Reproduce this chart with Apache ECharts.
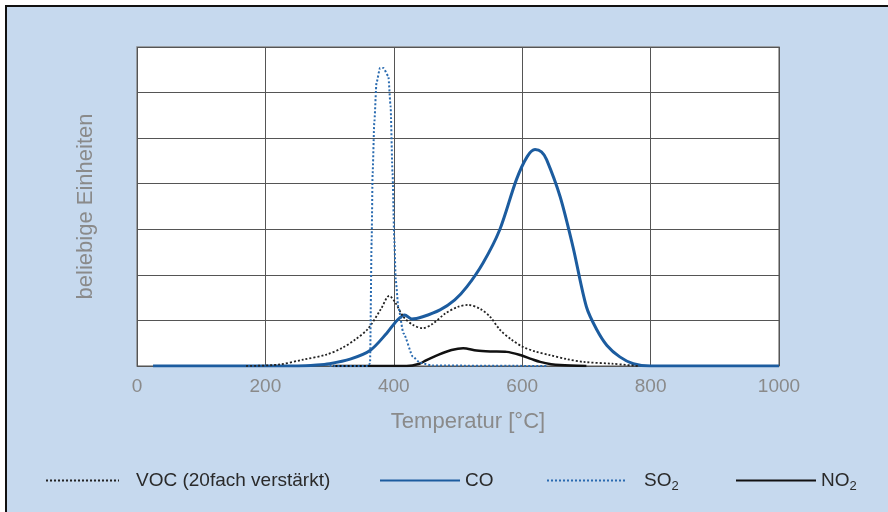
<!DOCTYPE html>
<html>
<head>
<meta charset="utf-8">
<script src="https://cdn.jsdelivr.net/npm/echarts@6/dist/echarts.min.js"></script>
<style>
  html, body { margin: 0; padding: 0; background: #fff; }
  #frame {
    position: absolute; left: 5px; top: 5px; width: 881px; height: 505px;
    background: #c6d9ee; border-top: 2px solid #111; border-left: 2px solid #111;
  }
  #chart { position: absolute; left: 0; top: 0; width: 888px; height: 512px; }
</style>
</head>
<body>
<div id="frame"></div>
<div id="chart"></div>
<script>
// Temperatur [°C] und Werte (beliebige Einheiten) je Kurve
const xTicks = [0, 200, 400, 600, 800, 1000]

const vocT = [170, 220, 259, 295, 320, 340, 360, 380, 393, 402, 415, 430, 445, 460, 480, 500, 516, 535, 550, 565, 583, 601, 620, 643, 670, 695, 740, 780]
const vocY = [0, 0.03, 0.14, 0.25, 0.4, 0.58, 0.82, 1.25, 1.54, 1.4, 1.08, 0.9, 0.83, 0.92, 1.15, 1.3, 1.34, 1.25, 1.08, 0.8, 0.58, 0.42, 0.32, 0.24, 0.15, 0.09, 0.05, 0]

const coT = [25, 250, 280, 300, 332, 363, 389, 405, 417, 428, 445, 472, 495, 514, 539, 565, 591, 608, 620, 630, 638, 659, 679, 700, 716, 732, 752, 773, 800, 1000]
const coY = [0, 0, 0.02, 0.05, 0.15, 0.34, 0.72, 1.0, 1.12, 1.03, 1.08, 1.23, 1.45, 1.74, 2.26, 2.99, 4.09, 4.6, 4.75, 4.7, 4.53, 3.72, 2.62, 1.3, 0.8, 0.45, 0.2, 0.05, 0, 0]

const so2T = [300, 360, 363, 365.5, 367, 369.6, 373, 378.5, 383.7, 391.5, 395, 398, 400.8, 403, 407, 415, 430, 441, 460, 640]
const so2Y = [0, 0, 0.06, 2.77, 4.23, 5.33, 6.21, 6.54, 6.54, 6.36, 5.7, 4.23, 2.77, 1.89, 1.3, 0.72, 0.2, 0.07, 0.01, 0]

const no2T = [305, 420, 440, 451, 470, 490, 508, 529, 550, 576, 597, 615, 628, 645, 659, 700]
const no2Y = [0, 0, 0.05, 0.13, 0.25, 0.35, 0.39, 0.34, 0.32, 0.31, 0.24, 0.15, 0.09, 0.04, 0.02, 0]

const pairs = (xs, ys) => xs.map((x, i) => [x, ys[i]])

const font = '"Liberation Sans", Arial, sans-serif'
const chart = echarts.init(document.getElementById('chart'))

const legendText = (pad) => ({
  fontFamily: font, fontSize: 19, color: '#2a2a2a', padding: [0, 0, 0, pad],
  rich: { sub: { fontFamily: font, fontSize: 13, color: '#2a2a2a', padding: [11, 0, 0, 0] } }
})
const legendBase = {
  orient: 'horizontal',
  top: 471,
  padding: 0,
  itemHeight: 16,
  selectedMode: false,
  itemStyle: { opacity: 0 }
}

chart.setOption({
  animation: false,
  grid: {
    left: 137, right: 109, top: 47, bottom: 146,
    show: true, backgroundColor: '#fff', borderColor: '#8a8a8a', borderWidth: 1.5
  },
  xAxis: {
    type: 'value', min: 0, max: 1000, interval: 200,
    name: 'Temperatur [°C]', nameLocation: 'middle', nameGap: 45,
    nameTextStyle: { fontFamily: font, fontSize: 22, color: '#8a8a8a', padding: [0, 0, 0, 20] },
    axisLine: { show: false }, axisTick: { show: false },
    axisLabel: {
      margin: 11, fontFamily: font, fontSize: 19, color: '#8a8a8a',
      formatter: v => xTicks.includes(v) ? String(v) : ''
    },
    splitLine: { lineStyle: { color: '#555', width: 1 } }
  },
  yAxis: {
    type: 'value', min: 0, max: 7, interval: 1,
    name: 'beliebige Einheiten', nameLocation: 'middle', nameGap: 40, nameRotate: 90,
    nameTextStyle: { fontFamily: font, fontSize: 22, color: '#8a8a8a' },
    axisLine: { show: false }, axisTick: { show: false }, axisLabel: { show: false },
    splitLine: { lineStyle: { color: '#555', width: 1 } }
  },
  legend: [
    Object.assign({}, legendBase, {
      left: 45, itemWidth: 73, data: ['VOC (20fach verstärkt)'], textStyle: legendText(12)
    }),
    Object.assign({}, legendBase, {
      left: 379, itemWidth: 80, data: ['CO'], textStyle: legendText(0)
    }),
    Object.assign({}, legendBase, {
      left: 546, itemWidth: 79, data: ['SO2'], formatter: () => 'SO{sub|2}', textStyle: legendText(13)
    }),
    Object.assign({}, legendBase, {
      left: 735, itemWidth: 80, data: ['NO2'], formatter: () => 'NO{sub|2}', textStyle: legendText(0)
    })
  ],
  series: [
    {
      name: 'CO', type: 'line', data: pairs(coT, coY), symbol: 'none',
      smooth: 0.3,
      lineStyle: { color: '#1c5c9f', width: 3 }, itemStyle: { color: '#1c5c9f' }
    },
    {
      name: 'NO2', type: 'line', data: pairs(no2T, no2Y), symbol: 'none',
      smooth: 0.3,
      lineStyle: { color: '#111', width: 2.5 }, itemStyle: { color: '#111' }
    },
    {
      name: 'VOC (20fach verstärkt)', type: 'line', data: pairs(vocT, vocY), symbol: 'none',
      smooth: 0.3,
      lineStyle: { color: '#222', width: 1.8, type: [2, 2] }, itemStyle: { color: '#222' }
    },
    {
      name: 'SO2', type: 'line', data: pairs(so2T, so2Y), symbol: 'none',
      smooth: 0.2, smoothMonotone: 'x',
      lineStyle: { color: '#2a6bb0', width: 2, type: [2, 2] }, itemStyle: { color: '#2a6bb0' }
    }
  ]
})
</script>
</body>
</html>
